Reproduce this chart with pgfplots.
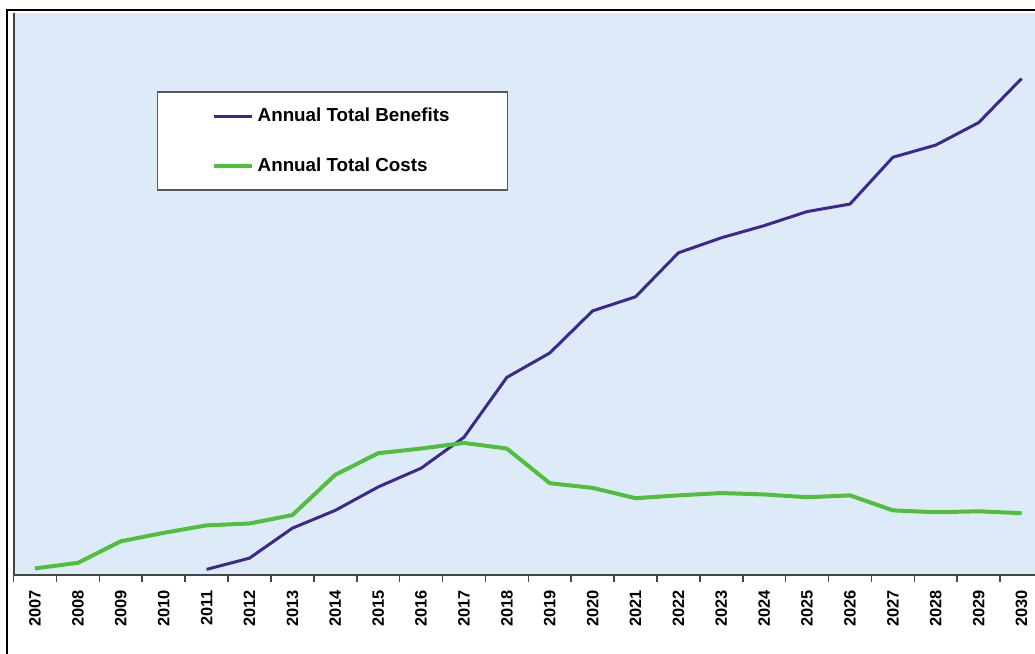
\documentclass[border=0pt]{standalone}
\usepackage{pgfplots}
\pgfplotsset{compat=1.18}
\usepackage{fontspec}
\setmainfont{Liberation Sans}
\definecolor{bg}{RGB}{221,235,248}
\definecolor{ben}{RGB}{62,40,140}
\definecolor{cost}{RGB}{82,190,62}
\definecolor{axc}{RGB}{70,70,70}
\begin{document}
\begin{tikzpicture}[x=1pt,y=1pt]
\clip (0,0) rectangle (517.5,327);
\fill[white] (0,0) rectangle (517.5,327);
\begin{axis}[
  at={(6.8pt,39.5pt)}, anchor=south west,
  scale only axis, width=514.7pt, height=281pt,
  xmin=-0.5, xmax=23.5, ymin=0, ymax=6,
  axis background/.style={fill=bg},
  axis lines*=left,
  axis line style={axc, line width=1pt},
  xtick={0,...,23},
  xticklabels={2007,2008,2009,2010,2011,2012,2013,2014,2015,2016,2017,2018,2019,2020,2021,2022,2023,2024,2025,2026,2027,2028,2029,2030},
  minor xtick={-0.5,0.5,...,23.5},
  ytick=\empty,
  minor ytick={0,1,...,6},
  major tick length=0pt,
  minor tick length=3.5pt,
  tick align=outside,
  tick style={axc, line width=0.8pt},
  xticklabel shift=4pt,
  xticklabel style={rotate=90, anchor=east, font=\bfseries\fontsize{8.2}{9}\selectfont},
  legend style={at={(0.1393,0.861)}, anchor=north west, draw=gray!70!black, line width=0.7pt, fill=white,
    inner xsep=27pt, inner ysep=6pt, row sep=12.5pt, font=\bfseries\fontsize{9.4}{11}\selectfont},
  legend cell align=left,
  legend image code/.code={\draw[#1] (0pt,0pt) -- (19pt,0pt);},
]
\addplot[ben, line width=1.5pt] coordinates {
(4,0.06) (5,0.18) (6,0.50) (7,0.69) (8,0.94) (9,1.14) (10,1.47) (11,2.11) (12,2.37) (13,2.82)
(14,2.97) (15,3.44) (16,3.60) (17,3.73) (18,3.88) (19,3.96) (20,4.46) (21,4.59) (22,4.83) (23,5.30)};
\addlegendentry{Annual Total Benefits}
\addplot[cost, line width=2pt] coordinates {
(0,0.07) (1,0.13) (2,0.36) (3,0.45) (4,0.53) (5,0.55) (6,0.64) (7,1.07) (8,1.30) (9,1.35)
(10,1.41) (11,1.35) (12,0.98) (13,0.93) (14,0.82) (15,0.85) (16,0.875) (17,0.86) (18,0.83) (19,0.85)
(20,0.69) (21,0.67) (22,0.68) (23,0.66)};
\addlegendentry{Annual Total Costs}
\end{axis}
\draw[black, line width=1pt] (3.5,0) -- (3.5,322) -- (517.5,322);
\end{tikzpicture}
\end{document}
